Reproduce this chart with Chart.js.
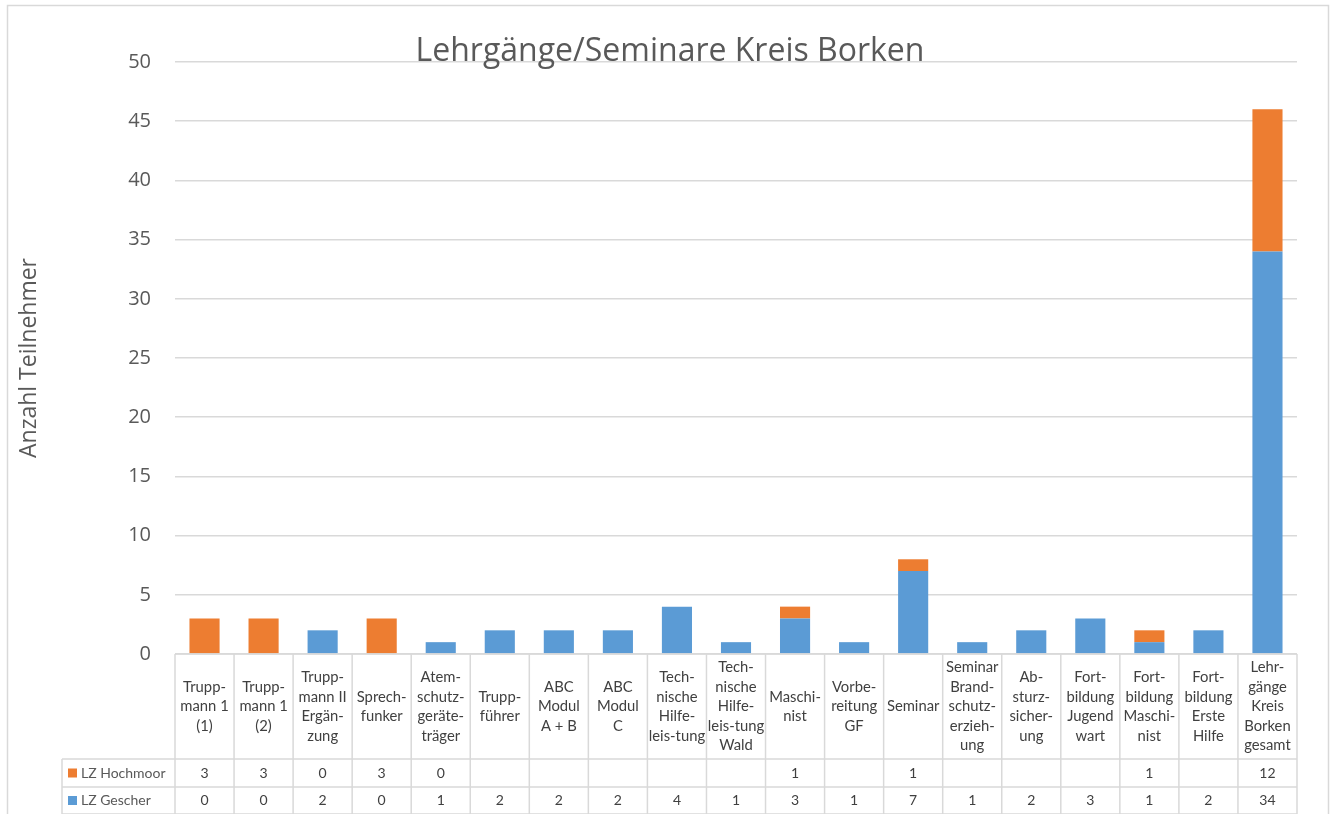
<!DOCTYPE html>
<html>
<head>
<meta charset="utf-8">
<script src="https://cdn.jsdelivr.net/npm/chart.js@4/dist/chart.umd.min.js"></script>
<style>
  body { margin: 0; background: #fff; }
  canvas { display: block; }
</style>
</head>
<body>
<canvas id="myChart" width="1330" height="814"></canvas>
<script>
// Kategorien (mehrzeilig wie in der Tabelle)
var kurse = [
  ["Trupp-", "mann 1", "(1)"],
  ["Trupp-", "mann 1", "(2)"],
  ["Trupp-", "mann II", "Ergän-", "zung"],
  ["Sprech-", "funker"],
  ["Atem-", "schutz-", "geräte-", "träger"],
  ["Trupp-", "führer"],
  ["ABC", "Modul", "A + B"],
  ["ABC", "Modul", "C"],
  ["Tech-", "nische", "Hilfe-", "leis-tung"],
  ["Tech-", "nische", "Hilfe-", "leis-tung", "Wald"],
  ["Maschi-", "nist"],
  ["Vorbe-", "reitung", "GF"],
  ["Seminar"],
  ["Seminar", "Brand-", "schutz-", "erzieh-", "ung"],
  ["Ab-", "sturz-", "sicher-", "ung"],
  ["Fort-", "bildung", "Jugend", "wart"],
  ["Fort-", "bildung", "Maschi-", "nist"],
  ["Fort-", "bildung", "Erste", "Hilfe"],
  ["Lehr-", "gänge", "Kreis", "Borken", "gesamt"]
];
// leere Zellen = null
var hochmoor = [3, 3, 0, 3, 0, null, null, null, null, null, 1, null, 1, null, null, null, 1, null, 12];
var gescher  = [0, 0, 2, 0, 1, 2, 2, 2, 4, 1, 3, 1, 7, 1, 2, 3, 1, 2, 34];
var yTicks = [0, 5, 10, 15, 20, 25, 30, 35, 40, 45, 50];

var grau = "#595959";
var linie = "#d9d9d9";

// Rahmen, Titel und Datentabelle unter der Achse
var tabelle = {
  id: "tabelle",
  beforeDraw: function(chart) {
    var c = chart.ctx;
    c.save();
    c.strokeStyle = linie;
    c.lineWidth = 1.5;
    c.strokeRect(7.5, 5.5, 1321, 830);
    c.restore();
  },
  afterDraw: function(chart) {
    var c = chart.ctx;
    var x = chart.scales.x;
    var area = chart.chartArea;
    var w = x.getPixelForValue(1) - x.getPixelForValue(0);
    var top = area.bottom;
    var r1 = 759, r2 = 787, r3 = 814;
    c.save();
    c.strokeStyle = linie;
    c.lineWidth = 1.5;
    c.beginPath();
    c.moveTo(area.left, top); c.lineTo(area.right, top);
    c.moveTo(62, r1); c.lineTo(area.right, r1);
    c.moveTo(62, r2); c.lineTo(area.right, r2);
    c.moveTo(62, r3); c.lineTo(area.right, r3);
    c.moveTo(62, r1); c.lineTo(62, r3);
    for (var i = 0; i <= kurse.length; i++) {
      var bx = x.getPixelForValue(0) - w / 2 + i * w;
      c.moveTo(bx, top); c.lineTo(bx, r3);
    }
    c.stroke();

    c.fillStyle = "#404040";
    c.textAlign = "center";
    c.textBaseline = "middle";
    var lh = 19.5;
    for (var i = 0; i < kurse.length; i++) {
      var cx = x.getPixelForValue(i);
      var lines = kurse[i];
      var y0 = (top + r1) / 2 - (lines.length - 1) * lh / 2;
      c.font = "14.8px Lato";
      for (var k = 0; k < lines.length; k++) {
        c.fillText(lines[k], cx, y0 + k * lh);
      }
      c.font = "14px Lato";
      if (hochmoor[i] !== null) c.fillText(String(hochmoor[i]), cx, (r1 + r2) / 2);
      if (gescher[i] !== null) c.fillText(String(gescher[i]), cx, (r2 + r3) / 2);
    }

    // Legende in der Tabelle
    c.font = "14px Lato";
    c.textAlign = "left";
    c.fillStyle = "#ED7D31";
    c.fillRect(68, (r1 + r2) / 2 - 4.5, 9, 9);
    c.fillStyle = "#5B9BD5";
    c.fillRect(68, (r2 + r3) / 2 - 4.5, 9, 9);
    c.fillStyle = grau;
    c.fillText(chart.data.datasets[0].label, 81, (r1 + r2) / 2);
    c.fillText(chart.data.datasets[1].label, 81, (r2 + r3) / 2);

    // Titel
    c.fillStyle = grau;
    c.font = "32px 'Open Sans'";
    c.textAlign = "center";
    c.textBaseline = "alphabetic";
    c.fillText("Lehrgänge/Seminare Kreis Borken", 670, 61);
    c.restore();
  }
};

var ctx = document.getElementById("myChart");
var myChart = new Chart(ctx, {
  type: "bar",
  data: {
    labels: kurse,
    datasets: [
      {
        label: "LZ Hochmoor",
        data: hochmoor,
        backgroundColor: "#ED7D31",
        stack: "s",
        order: 2
      },
      {
        label: "LZ Gescher",
        data: gescher,
        backgroundColor: "#5B9BD5",
        stack: "s",
        order: 1
      }
    ]
  },
  options: {
    responsive: false,
    animation: false,
    layout: { padding: { top: 62, right: 33, bottom: 160, left: 0 } },
    datasets: { bar: { categoryPercentage: 1, barPercentage: 0.51 } },
    plugins: {
      legend: { display: false },
      tooltip: { enabled: false },
      title: { display: false }
    },
    scales: {
      x: {
        stacked: true,
        ticks: { display: false },
        grid: { display: false, drawTicks: false },
        border: { display: false },
        afterFit: function(s) { s.height = 0; }
      },
      y: {
        stacked: true,
        min: 0,
        max: 50,
        afterBuildTicks: function(s) { s.ticks = yTicks.map(function(v) { return { value: v }; }); },
        afterFit: function(s) { s.width = 175; },
        ticks: { color: grau, padding: 24, font: { family: "Open Sans", size: 20 } },
        grid: { color: linie, lineWidth: 1.5, drawTicks: false },
        border: { display: false },
        title: {
          display: true,
          text: "Anzahl Teilnehmer",
          color: grau,
          font: { family: "Open Sans", size: 23 },
          padding: { top: 16, bottom: 0 }
        }
      }
    }
  },
  plugins: [tabelle]
});
</script>
</body>
</html>
